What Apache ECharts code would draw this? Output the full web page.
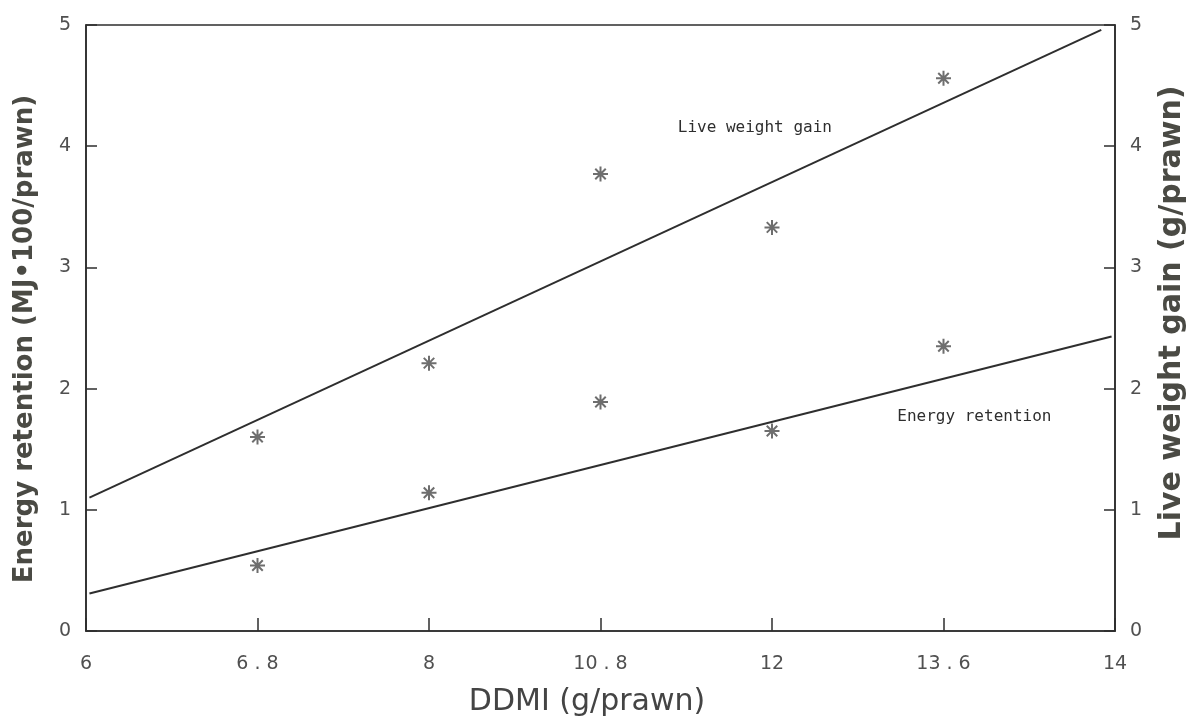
<!DOCTYPE html>
<html>
<head>
<meta charset="utf-8">
<script src="https://cdn.jsdelivr.net/npm/echarts@6/dist/echarts.min.js"></script>
<style>
html,body{margin:0;padding:0;background:#fff;}
#chart{width:1189px;height:722px;}
</style>
</head>
<body>
<div id="chart"></div>
<script>
// Tick labels of the x axis (equally spaced on the original plot)
const xTickLabels = ['6', '6.8', '8', '10.8', '12', '13.6', '14'];
const yTickLabels = ['0', '1', '2', '3', '4', '5'];

// Observed points (x = position index on the DDMI axis)
const pointIdx = [1, 2, 3, 4, 5];
const liveWeightGain = [1.60, 2.21, 3.77, 3.33, 4.56];
const energyRetention = [0.54, 1.14, 1.89, 1.65, 2.35];

// Fitted regression lines (endpoints)
const lwgFit = [[0.02, 1.10], [5.92, 4.96]];
const erFit = [[0.02, 0.31], [5.98, 2.43]];

// Annotation labels
const lwgLabel = {text: 'Live weight gain', at: [3.90, 4.15]};
const erLabel = {text: 'Energy retention', at: [5.18, 1.77]};

const starPath = 'path://M6 0L6 12M0 6L12 6M1.8 1.8L10.2 10.2M10.2 1.8L1.8 10.2';
const ink = '#2e2e2e';
const textInk = '#505050';

const chart = echarts.init(document.getElementById('chart'), null, {renderer: 'canvas'});

function yAxisDef(pos) {
  return {
    type: 'value', position: pos, min: 0, max: 5, interval: 1,
    axisLine: {show: true, onZero: false, lineStyle: {color: ink, width: 1.6}},
    axisTick: {show: true, inside: true, length: 11, lineStyle: {color: ink, width: 1.5}},
    splitLine: {show: false},
    axisLabel: {
      margin: 15, color: textInk, fontFamily: 'DejaVu Sans', fontSize: 19,
      formatter: v => yTickLabels[Math.round(v)]
    }
  };
}

const annotStyle = {
  show: true, position: 'inside', color: ink,
  fontFamily: 'DejaVu Sans Mono', fontSize: 16
};

chart.setOption({
  animation: false,
  backgroundColor: '#fff',
  grid: {left: 86, right: 74, top: 25, bottom: 91, show: true, borderColor: ink, borderWidth: 1.6},
  xAxis: {
    type: 'value', min: 0, max: 6, interval: 1,
    axisLine: {show: true, onZero: false, lineStyle: {color: ink, width: 1.6}},
    axisTick: {show: true, inside: true, length: 13, lineStyle: {color: ink, width: 1.5}},
    splitLine: {show: false},
    axisLabel: {
      margin: 24, color: textInk, fontFamily: 'DejaVu Sans', fontSize: 19,
      formatter: v => xTickLabels[Math.round(v)].split('').join(' ').replace(/(\d) (\d)/g, '$1$2')
    }
  },
  yAxis: [yAxisDef('left'), yAxisDef('right')],
  graphic: [
    {
      type: 'text', x: 25, y: 339, rotation: Math.PI / 2,
      style: {text: 'Energy retention (MJ\u2022100/prawn)', fill: '#4a4a44',
        font: 'bold 26px "DejaVu Sans"', align: 'center', verticalAlign: 'middle'}
    },
    {
      type: 'text', x: 1172, y: 313, rotation: Math.PI / 2,
      style: {text: 'Live weight gain (g/prawn)', fill: '#4a4a44',
        font: 'bold 30px "DejaVu Sans"', align: 'center', verticalAlign: 'middle'}
    },
    {
      type: 'text', x: 587, y: 702,
      style: {text: 'DDMI (g/prawn)', fill: '#444',
        font: '30px "DejaVu Sans"', align: 'center', verticalAlign: 'middle'}
    }
  ],
  series: [
    {
      name: 'Live weight gain fit', type: 'line', yAxisIndex: 1,
      data: lwgFit, showSymbol: false,
      lineStyle: {color: ink, width: 2},
      markPoint: {
        symbol: 'circle', symbolSize: 1, itemStyle: {color: 'rgba(0,0,0,0)'},
        label: Object.assign({}, annotStyle, {formatter: lwgLabel.text}),
        data: [{coord: lwgLabel.at}]
      }
    },
    {
      name: 'Energy retention fit', type: 'line', yAxisIndex: 0,
      data: erFit, showSymbol: false,
      lineStyle: {color: ink, width: 2},
      markPoint: {
        symbol: 'circle', symbolSize: 1, itemStyle: {color: 'rgba(0,0,0,0)'},
        label: Object.assign({}, annotStyle, {formatter: erLabel.text}),
        data: [{coord: erLabel.at}]
      }
    },
    {
      name: 'Live weight gain', type: 'scatter', yAxisIndex: 1,
      data: pointIdx.map((x, i) => [x, liveWeightGain[i]]),
      symbol: starPath, symbolSize: 15,
      itemStyle: {color: 'rgba(0,0,0,0)', borderColor: '#4a4a4a', borderWidth: 2}
    },
    {
      name: 'Energy retention', type: 'scatter', yAxisIndex: 0,
      data: pointIdx.map((x, i) => [x, energyRetention[i]]),
      symbol: starPath, symbolSize: 15,
      itemStyle: {color: 'rgba(0,0,0,0)', borderColor: '#4a4a4a', borderWidth: 2}
    }
  ]
});
</script>
</body>
</html>
